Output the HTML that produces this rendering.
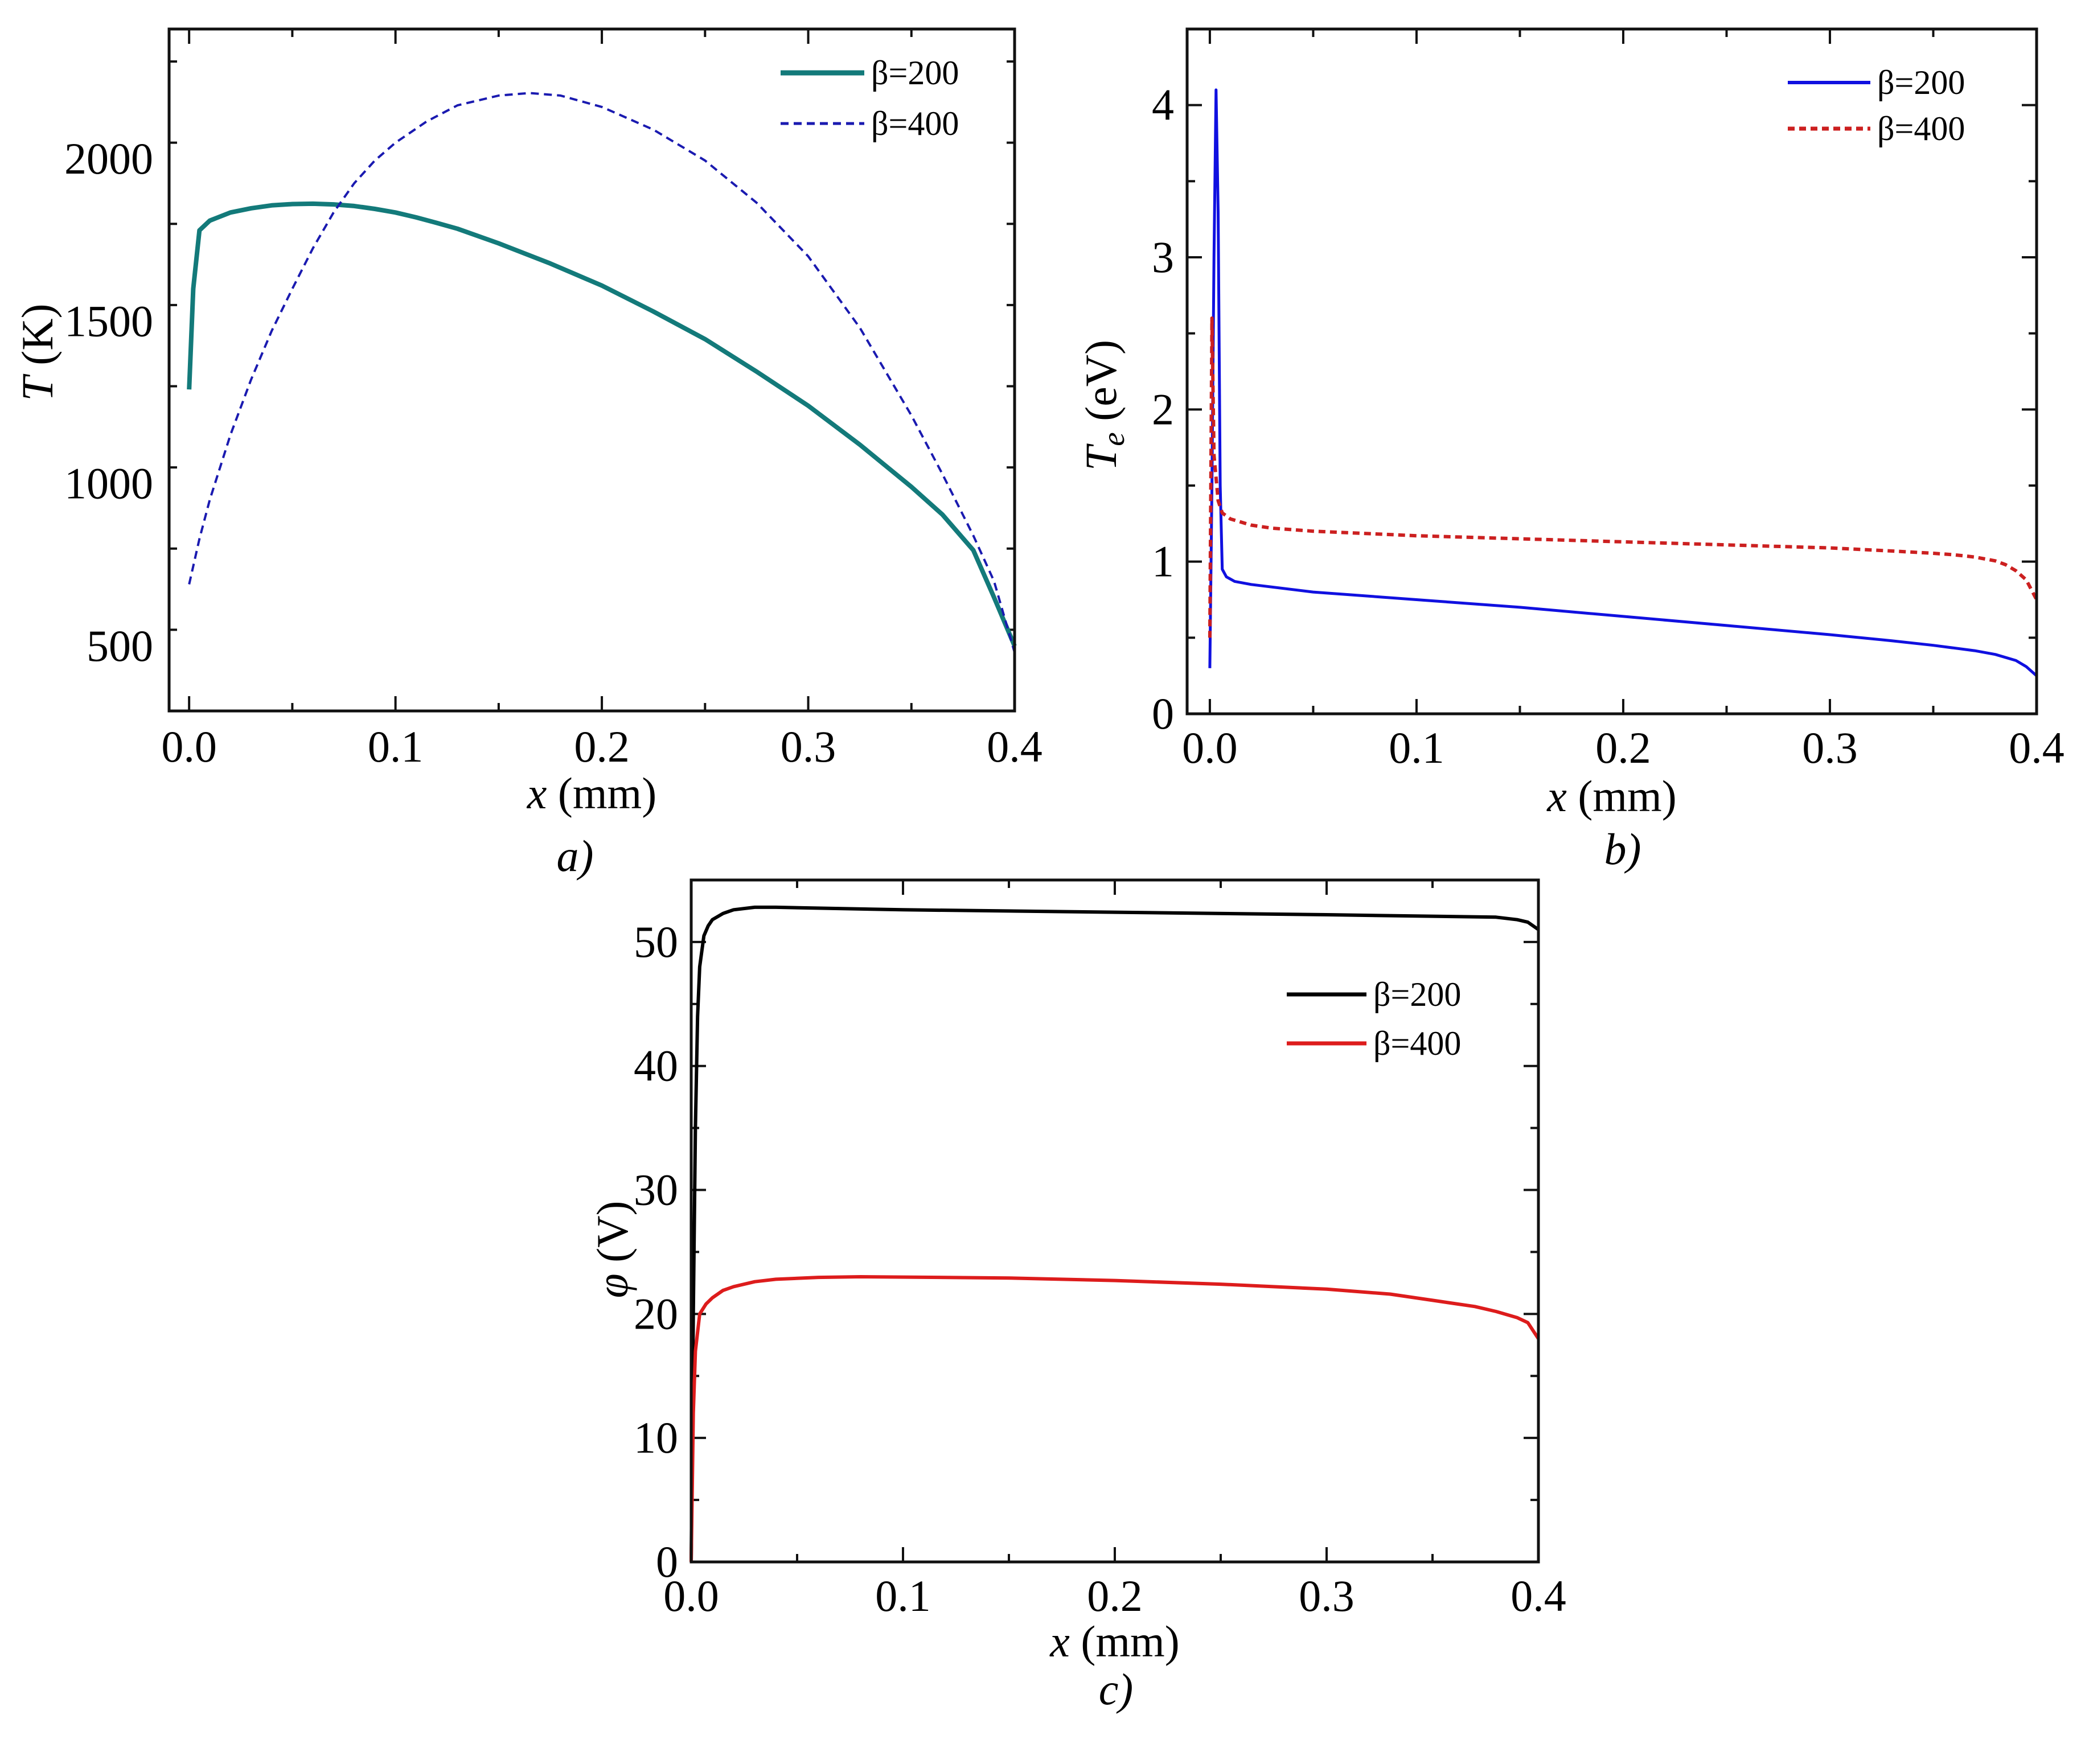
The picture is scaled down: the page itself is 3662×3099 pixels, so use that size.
<!DOCTYPE html>
<html><head><meta charset="utf-8"><style>
html,body{margin:0;padding:0;background:#fff;}
svg{display:block;font-family:"Liberation Serif",serif;}
</style></head><body>
<svg id="fig" width="3662" height="3099" viewBox="0 0 3662 3099" xmlns="http://www.w3.org/2000/svg"></svg>
<script>
// Panel a data
const aX200 = [0,0.002,0.005,0.01,0.02,0.03,0.04,0.05,0.06,0.07,0.08,0.09,0.1,0.11,0.12,0.13,0.15,0.175,0.2,0.225,0.25,0.275,0.3,0.325,0.35,0.365,0.38,0.39,0.4];
const aY200 = [1290,1600,1780,1810,1835,1848,1857,1861,1862,1860,1855,1846,1835,1820,1803,1785,1740,1678,1610,1530,1445,1345,1240,1120,990,905,795,650,500];
const aX400 = [0,0.005,0.01,0.02,0.03,0.04,0.05,0.06,0.07,0.08,0.09,0.1,0.115,0.13,0.15,0.165,0.18,0.2,0.225,0.25,0.275,0.3,0.325,0.35,0.365,0.38,0.39,0.4];
const aY400 = [690,830,950,1150,1320,1470,1600,1725,1835,1925,1995,2050,2115,2165,2195,2203,2195,2160,2090,1995,1865,1700,1480,1210,1030,840,700,480];
// Panel b data
const bX200 = [0,0.001,0.002,0.003,0.004,0.005,0.006,0.008,0.012,0.02,0.05,0.1,0.15,0.2,0.25,0.3,0.33,0.35,0.37,0.38,0.39,0.395,0.4];
const bY200 = [0.3,1.5,3.0,4.1,3.3,1.5,0.95,0.9,0.87,0.85,0.8,0.75,0.7,0.64,0.58,0.52,0.48,0.45,0.415,0.39,0.35,0.31,0.25];
const bX400 = [0,0.001,0.002,0.004,0.006,0.01,0.02,0.03,0.05,0.1,0.2,0.3,0.33,0.35,0.36,0.37,0.38,0.385,0.39,0.395,0.4];
const bY400 = [0.5,2.6,1.7,1.4,1.32,1.28,1.24,1.22,1.2,1.17,1.13,1.09,1.07,1.055,1.045,1.03,1.005,0.98,0.94,0.88,0.75];
// Panel c data
const cX200 = [0,0.001,0.002,0.003,0.004,0.006,0.008,0.01,0.015,0.02,0.03,0.04,0.1,0.2,0.3,0.38,0.39,0.395,0.4];
const cY200 = [0,20,35,44,48,50.5,51.3,51.8,52.3,52.6,52.8,52.8,52.6,52.4,52.2,52,51.8,51.6,51];
const cX400 = [0,0.001,0.002,0.004,0.007,0.01,0.015,0.02,0.03,0.04,0.06,0.08,0.15,0.2,0.25,0.3,0.33,0.35,0.37,0.38,0.39,0.395,0.4];
const cY400 = [0,12,17,20,20.8,21.3,21.9,22.2,22.6,22.8,22.95,23,22.9,22.7,22.4,22,21.6,21.1,20.6,20.2,19.7,19.3,18];
const xTicks = ["0.0","0.1","0.2","0.3","0.4"];
const aYTicks = ["500","1000","1500","2000"];
const bYTicks = ["0","1","2","3","4"];
const cYTicks = ["0","10","20","30","40","50"];

const NS="http://www.w3.org/2000/svg";
const svg=document.getElementById('fig');
function mk(tag,attrs,parent){const e=document.createElementNS(NS,tag);for(const k in attrs)e.setAttribute(k,attrs[k]);(parent||svg).appendChild(e);return e;}

function panel(p){
  const g=mk('g',{});
  
  
  const sx=v=>p.L+(v-p.x0)/(p.x1-p.x0)*(p.R-p.L);
  const sy=v=>p.B-(v-p.y0)/(p.y1-p.y0)*(p.B-p.T);
  for(let i=0;i<=8;i++){
    const v=i*0.05, X=sx(v), len=(i%2==0)?26:14;
    mk('line',{x1:X,y1:p.B,x2:X,y2:p.B-len,stroke:'#111','stroke-width':4},g);
    mk('line',{x1:X,y1:p.T,x2:X,y2:p.T+len,stroke:'#111','stroke-width':4},g);
  }
  for(let v=p.y0;v<=p.y1+1e-9;v+=p.minor){
    const Y=sy(v), major=Math.abs((v/p.major)-Math.round(v/p.major))<1e-6, len=major?26:14;
    mk('line',{x1:p.L,y1:Y,x2:p.L+len,y2:Y,stroke:'#111','stroke-width':4},g);
    mk('line',{x1:p.R,y1:Y,x2:p.R-len,y2:Y,stroke:'#111','stroke-width':4},g);
  }
  xTicks.forEach(t=>{const e=mk('text',{x:sx(parseFloat(t)),y:p.xly,'font-size':78,'text-anchor':'middle'},g);e.textContent=t;
    });
  p.yt.forEach(t=>{const e=mk('text',{x:p.yrx,y:sy(parseFloat(t))+26,'font-size':78,'text-anchor':'end'},g);e.textContent=t;
    });
  p.series.forEach(s=>{
    const pts=s.x.map((v,i)=>sx(v).toFixed(1)+','+sy(s.y[i]).toFixed(1)).join(' ');
    const pl=mk('polyline',{points:pts,fill:'none',stroke:s.c,'stroke-width':s.w,'stroke-dasharray':s.d||'none','stroke-linejoin':'round'},g);
    
  });
  const f=mk('rect',{x:p.L,y:p.T,width:p.R-p.L,height:p.B-p.T,fill:'none',stroke:'#111','stroke-width':5},g);
  
  p.series.forEach((s,i)=>{
    const ly=p.legY[i];
    const ll=mk('line',{x1:p.legX0,y1:ly,x2:p.legX1,y2:ly,stroke:s.c,'stroke-width':s.w+1,'stroke-dasharray':s.d||'none'},g);
    
    const e=mk('text',{x:p.legX1+12,y:ly+20,'font-size':60},g);e.textContent=s.label;
    
  });
  const xt=mk('text',{x:(p.L+p.R)/2,y:p.xty,'font-size':78,'text-anchor':'middle'},g);
  xt.innerHTML='<tspan font-style="italic">x</tspan> (mm)';
  
  const yt=mk('text',{x:0,y:0,'font-size':78,'text-anchor':'middle',transform:`translate(${p.ytx},${p.tyc}) rotate(-90)`},g);
  yt.innerHTML=p.ytitle;
  
  const pl=mk('text',{x:p.plx,y:p.ply,'font-size':78,'font-style':'italic','text-anchor':'middle'},g);
  pl.textContent=p.plab;
  
}

panel({name:'panel-a',L:297,R:1782,T:51,B:1249,x0:-0.0097,x1:0.4,y0:300,y1:2400,major:500,minor:250,yt:aYTicks,
  xly:1338,yrx:269,xty:1420,ytx:92,tyc:619,plx:1010,ply:1530,plab:'a)',
  ytitle:'<tspan font-style="italic">T</tspan> (K)',
  legX0:1371,legX1:1518,legY:[128,217],
  series:[{x:aX200,y:aY200,c:'#137a7a',w:8,n:'series-beta200',label:'β=200'},
          {x:aX400,y:aY400,c:'#1a1ab0',w:4,d:'14,9',n:'series-beta400',label:'β=400'}]});

panel({name:'panel-b',L:2085,R:3577,T:51,B:1254,x0:-0.011,x1:0.4,y0:0,y1:4.5,major:1,minor:0.5,yt:bYTicks,
  xly:1340,yrx:2062,xty:1425,ytx:1960,tyc:712,plx:2850,ply:1518,plab:'b)',
  ytitle:'<tspan font-style="italic">T<tspan font-size="55" dy="14">e</tspan></tspan><tspan dy="-14"> (eV)</tspan>',
  legX0:3140,legX1:3285,legY:[145,226],
  series:[{x:bX200,y:bY200,c:'#1010e0',w:5,n:'series-beta200',label:'β=200'},
          {x:bX400,y:bY400,c:'#cc2020',w:6,d:'12,8',n:'series-beta400',label:'β=400'}]});

panel({name:'panel-c',L:1214,R:2702,T:1546,B:2744,x0:0,x1:0.4,y0:0,y1:55,major:10,minor:5,yt:cYTicks,
  xly:2830,yrx:1191,xty:2910,ytx:1102,tyc:2195,plx:1960,ply:2994,plab:'c)',
  ytitle:'<tspan font-style="italic">φ</tspan> (V)',
  legX0:2260,legX1:2400,legY:[1747,1833],
  series:[{x:cX200,y:cY200,c:'#000000',w:6,n:'series-beta200',label:'β=200'},
          {x:cX400,y:cY400,c:'#dd1c1c',w:6,n:'series-beta400',label:'β=400'}]});
</script>
</body></html>
